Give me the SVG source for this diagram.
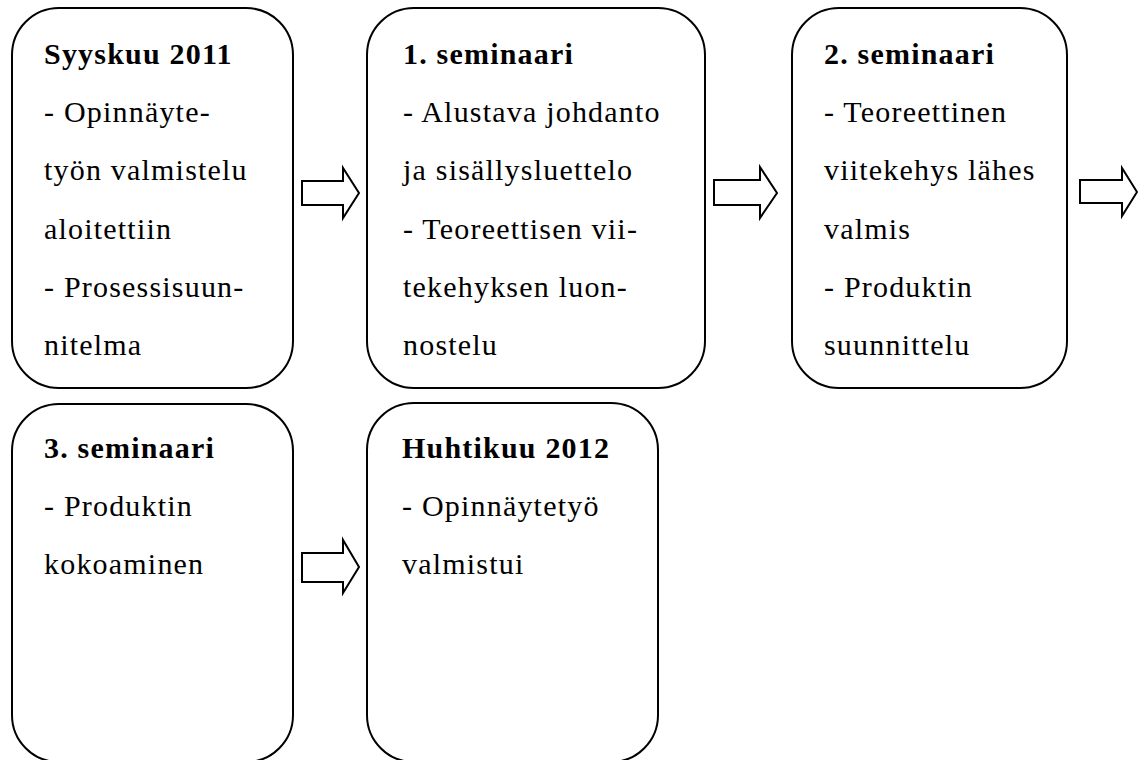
<svg xmlns="http://www.w3.org/2000/svg" width="1138" height="760" viewBox="0 0 1138 760">
<style>
.box{fill:#fff;stroke:#000;stroke-width:2}
.arr{fill:#fff;stroke:#000;stroke-width:2;stroke-linejoin:miter}
text{font-family:"Liberation Serif","Times New Roman",serif;font-size:30px;fill:#000;letter-spacing:1.2px}
.t{font-weight:bold;letter-spacing:1.2px}
</style>
<rect width="1138" height="760" fill="#fff"/>
<g id="connectors">
<polygon class="arr" points="302,181 343,181 343,168 359,193 343,218 343,205 302,205"/>
<polygon class="arr" points="714,180 760,180 760,167 777,193 760,218 760,205 714,205"/>
<polygon class="arr" points="1080,180 1122,180 1122,168 1137,192 1122,216 1122,203 1080,203"/>
<polygon class="arr" points="302,553 343,553 343,540 359,567 343,593 343,582 302,582"/>
</g>
<g id="node-syyskuu">
<rect class="box" x="12" y="8" width="281" height="380" rx="47" ry="47"/>
<text class="t" x="44" y="64">Syyskuu 2011</text>
<text x="44" y="122">- Opinnäyte-</text>
<text x="44" y="180">työn valmistelu</text>
<text x="44" y="239">aloitettiin</text>
<text x="44" y="297">- Prosessisuun-</text>
<text x="44" y="355">nitelma</text>
</g>
<g id="node-seminaari1">
<rect class="box" x="367" y="8" width="338" height="380" rx="47" ry="47"/>
<text class="t" x="403" y="64">1. seminaari</text>
<text x="403" y="122">- Alustava johdanto</text>
<text x="403" y="180">ja sisällysluettelo</text>
<text x="403" y="239">- Teoreettisen vii-</text>
<text x="403" y="297">tekehyksen luon-</text>
<text x="403" y="355">nostelu</text>
</g>
<g id="node-seminaari2">
<rect class="box" x="792" y="8" width="275" height="380" rx="47" ry="47"/>
<text class="t" x="824" y="64">2. seminaari</text>
<text x="824" y="122">- Teoreettinen</text>
<text x="824" y="180">viitekehys lähes</text>
<text x="824" y="239">valmis</text>
<text x="824" y="297">- Produktin</text>
<text x="824" y="355">suunnittelu</text>
</g>
<g id="node-seminaari3">
<rect class="box" x="12" y="404" width="281" height="358" rx="47" ry="47"/>
<text class="t" x="44" y="458">3. seminaari</text>
<text x="44" y="516">- Produktin</text>
<text x="44" y="574">kokoaminen</text>
</g>
<g id="node-huhtikuu">
<rect class="box" x="367" y="403" width="291" height="359" rx="47" ry="47"/>
<text class="t" x="402" y="458">Huhtikuu 2012</text>
<text x="402" y="516">- Opinnäytetyö</text>
<text x="402" y="574">valmistui</text>
</g>
</svg>
